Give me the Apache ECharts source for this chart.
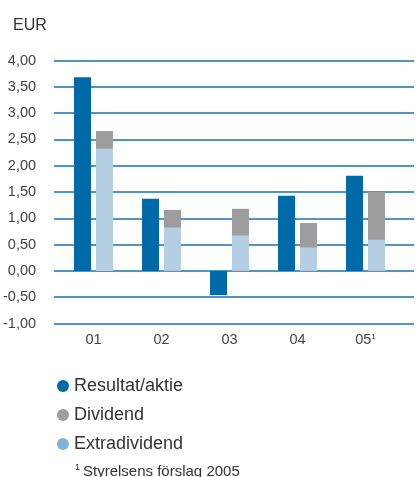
<!DOCTYPE html>
<html><head><meta charset="utf-8">
<script src="https://cdn.jsdelivr.net/npm/echarts@6/dist/echarts.min.js"></script>
<style>html,body{margin:0;padding:0;background:#fff}#c{width:419px;height:477px}</style>
</head><body><div id="c"></div>
<script>
const categories = ['01','02','03','04','05'];
const resultat = [3.68, 1.37, -0.46, 1.43, 1.81];
const extradividend = [2.32, 0.82, 0.67, 0.44, 0.59];
const dividendTotal = [2.66, 1.16, 1.18, 0.91, 1.50];
const dividend = dividendTotal.map((t,i)=>+(t - extradividend[i]).toFixed(2));
const yMin = -1, yMax = 4, yStep = 0.5;

const FONT = '"Liberation Sans", Arial, sans-serif';
const chart = echarts.init(document.getElementById('c'));
chart.setOption({
  animation:false,
  textStyle:{fontFamily:FONT},
  title:{text:'EUR', left:8, top:13, textStyle:{fontFamily:FONT,fontSize:16,fontWeight:'normal',color:'#333'}},
  grid:[
    {left:53, width:361, top:60.5, height:263},
    {left:59.5, width:340, top:60.5, height:263}
  ],
  xAxis:[
    {gridIndex:0, type:'category', data:categories, show:false},
    {gridIndex:1, type:'category', data:categories,
     axisLine:{show:false}, axisTick:{show:false},
     axisLabel:{interval:0, margin:9, fontSize:14.5, color:'#444', fontFamily:FONT,
       formatter:(v)=> v==='05' ? '05{sup|1}' : v,
       rich:{sup:{fontSize:8, verticalAlign:'top', padding:[0,0,7,0], color:'#444'}}}}
  ],
  yAxis:[
    {gridIndex:0, type:'value', min:yMin, max:yMax, interval:yStep,
     axisLine:{show:false}, axisTick:{show:false},
     axisLabel:{margin:18, fontSize:14.5, color:'#444', fontFamily:FONT,
       formatter:(v)=> v.toFixed(2).replace('.',',')},
     splitLine:{show:true, lineStyle:{color:'#4f96c8', width:2}}},
    {gridIndex:1, type:'value', min:yMin, max:yMax, interval:yStep, show:false, splitLine:{show:false}}
  ],
  legend:{
    orient:'vertical', left:52, top:372, itemGap:11, itemWidth:12, itemHeight:12,
    icon:'circle',
    textStyle:{fontSize:18, color:'#333', fontFamily:FONT},
    data:[
      {name:'Resultat/aktie', itemStyle:{color:'#006aa9'}},
      {name:'Dividend', itemStyle:{color:'#9d9d9f'}},
      {name:'Extradividend', itemStyle:{color:'#80b3da'}}
    ]
  },
  graphic:[
    {type:'text', left:75, top:463, style:{text:'1', fontSize:9, fill:'#333', fontFamily:FONT}},
    {type:'text', left:83, top:464, style:{text:'Styrelsens förslag 2005', fontSize:15, fill:'#333', fontFamily:FONT}}
  ],
  series:[
    {name:'Resultat/aktie', type:'bar', xAxisIndex:1, yAxisIndex:1, data:resultat,
     barWidth:17, barGap:'29%', itemStyle:{color:'#006aa9'}},
    {name:'Extradividend', type:'bar', xAxisIndex:1, yAxisIndex:1, stack:'d', data:extradividend,
     barWidth:17, itemStyle:{color:'#b4cfe4'}},
    {name:'Dividend', type:'bar', xAxisIndex:1, yAxisIndex:1, stack:'d', data:dividend,
     barWidth:17, itemStyle:{color:'#9d9d9f'}}
  ]
});
</script></body></html>
